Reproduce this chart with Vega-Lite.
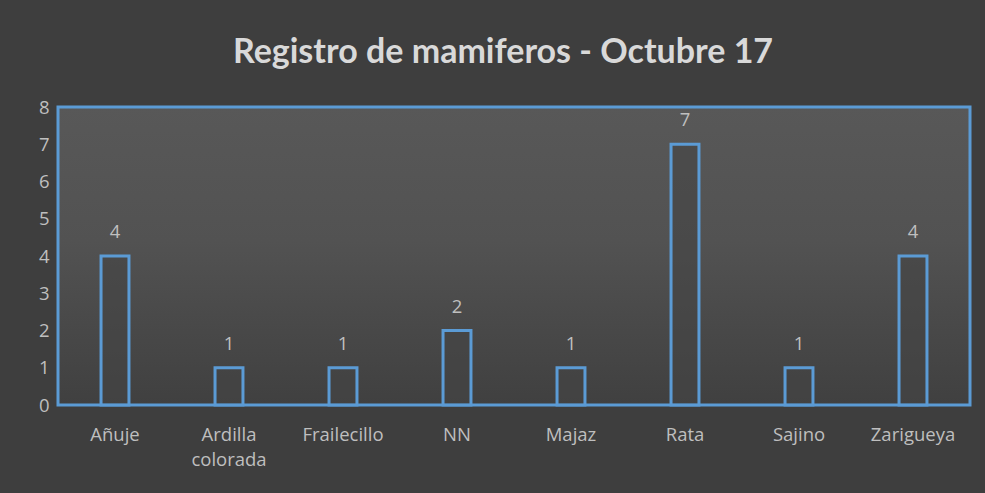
{
  "$schema": "https://vega.github.io/schema/vega-lite/v6.json",
  "autosize": "none",
  "width": 912,
  "height": 298,
  "padding": {"left": 58, "top": 107, "right": 15, "bottom": 88},
  "background": "#3e3e3e",
  "title": {
    "text": "Registro de mamiferos - Octubre 17",
    "font": "Lato",
    "fontSize": 34,
    "fontWeight": "bold",
    "color": "#d9d9d9",
    "anchor": "middle",
    "dx": -11,
    "offset": 28
  },
  "config": {
    "view": {
      "stroke": "#5B9BD5",
      "strokeWidth": 3,
      "fill": {
        "gradient": "linear",
        "x1": 0, "y1": 0, "x2": 0, "y2": 1,
        "stops": [
          {"offset": 0, "color": "#585858"},
          {"offset": 0.45, "color": "#525252"},
          {"offset": 1, "color": "#404040"}
        ]
      }
    },
    "font": "Open Sans"
  },
  "data": {
    "values": [
      {"especie": "Añuje", "n": 4},
      {"especie": "Ardilla colorada", "n": 1},
      {"especie": "Frailecillo", "n": 1},
      {"especie": "NN", "n": 2},
      {"especie": "Majaz", "n": 1},
      {"especie": "Rata", "n": 7},
      {"especie": "Sajino", "n": 1},
      {"especie": "Zarigueya", "n": 4}
    ]
  },
  "encoding": {
    "x": {
      "field": "especie",
      "type": "nominal",
      "sort": null,
      "scale": {"paddingInner": 0.755, "paddingOuter": 0.3775},
      "axis": {
        "title": null,
        "labelAngle": 0,
        "labelFont": "Open Sans",
        "labelFontSize": 18.5,
        "labelColor": "#bfbfbf",
        "labelPadding": 20,
        "labelLineHeight": 25,
        "labelOverlap": false,
        "labelExpr": "split(datum.value, ' ')",
        "ticks": false,
        "domain": false
      }
    },
    "y": {
      "field": "n",
      "type": "quantitative",
      "scale": {"domain": [0, 8]},
      "axis": {
        "title": null,
        "values": [0, 1, 2, 3, 4, 5, 6, 7, 8],
        "labelFont": "Open Sans",
        "labelFontSize": 18.5,
        "labelColor": "#bfbfbf",
        "labelPadding": 9,
        "labelOverlap": false,
        "labelFlush": false,
        "ticks": false,
        "domain": false,
        "grid": false
      }
    }
  },
  "layer": [
    {
      "mark": {
        "type": "bar",
        "fill": "#454545",
        "fillOpacity": 0.6,
        "stroke": "#5B9BD5",
        "strokeWidth": 3
      }
    },
    {
      "mark": {
        "type": "text",
        "baseline": "bottom",
        "dy": -14,
        "font": "Open Sans",
        "fontSize": 18.5,
        "color": "#bfbfbf"
      },
      "encoding": {"text": {"field": "n", "type": "quantitative"}}
    }
  ]
}
